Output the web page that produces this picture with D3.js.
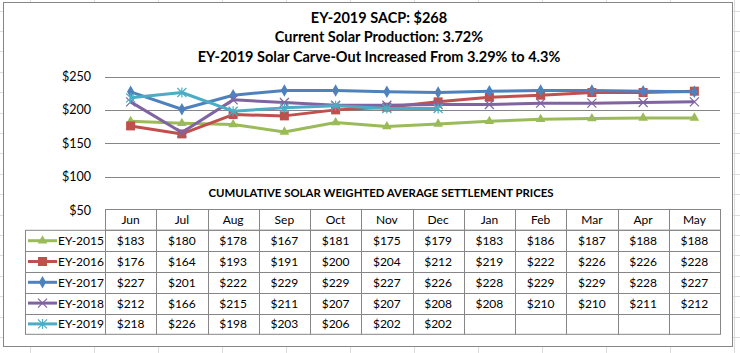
<!DOCTYPE html>
<html><head><meta charset="utf-8">
<script src="https://cdn.jsdelivr.net/npm/d3@7"></script>
<style>body{margin:0;background:#fff}svg{display:block}text{font-family:Lato,"Open Sans",sans-serif}</style>
</head><body><svg id="c" width="740" height="353"></svg>
<script>
const months = ["Jun","Jul","Aug","Sep","Oct","Nov","Dec","Jan","Feb","Mar","Apr","May"];
const seriesNames = ["EY-2015","EY-2016","EY-2017","EY-2018","EY-2019"];
const ey2015 = [183,180,178,167,181,175,179,183,186,187,188,188];
const ey2016 = [176,164,193,191,200,204,212,219,222,226,226,228];
const ey2017 = [227,201,222,229,229,227,226,228,229,229,228,227];
const ey2018 = [212,166,215,211,207,207,208,208,210,210,211,212];
const ey2019 = [218,226,198,203,206,202,202,null,null,null,null,null];
const yTicks = [50,100,150,200,250];
const titleLines = ["EY-2019 SACP: $268","Current Solar Production: 3.72%","EY-2019 Solar Carve-Out Increased From 3.29% to 4.3%"];
const tableTitle = "CUMULATIVE SOLAR WEIGHTED AVERAGE SETTLEMENT PRICES";

const colors = ["#9BBB59","#C0504D","#4F81BD","#8064A2","#4BACC6"];
const markers = ["triangle","square","diamond","x","star"];
const data = [ey2015,ey2016,ey2017,ey2018,ey2019];

const svg = d3.select("#c");

// spreadsheet background grid
const gridG = svg.append("g").attr("stroke","#dadcdd").attr("stroke-width",1);
for (let x = 30.5; x < 740; x += 64) gridG.append("line").attr("x1",x).attr("x2",x).attr("y1",0).attr("y2",353);
for (let y = 10.5; y < 353; y += 20.4) gridG.append("line").attr("x1",0).attr("x2",740).attr("y1",Math.round(y)+0.5).attr("y2",Math.round(y)+0.5);

// chart area
svg.append("rect").attr("x",3.5).attr("y",2.5).attr("width",729).attr("height",344)
  .attr("fill","#fff").attr("stroke","#868686").attr("stroke-width",1);

// titles
svg.append("g").selectAll("text").data(titleLines).join("text")
  .attr("x",379).attr("y",(d,i)=>22.5+i*19.5).attr("text-anchor","middle")
  .attr("font-weight","bold").attr("font-size",14.5).attr("fill","#000").text(d=>d);

const x = d3.scaleBand().domain(months).range([105,720]);
const y = d3.scaleLinear().domain([50,250]).range([210,76.5]);

// gridlines
svg.append("g").selectAll("line").data(yTicks.filter(t=>t>50)).join("line")
  .attr("x1",105).attr("x2",720).attr("y1",d=>Math.round(y(d))+0.5).attr("y2",d=>Math.round(y(d))+0.5)
  .attr("stroke","#868686").attr("stroke-width",1);

// y axis labels
const yAxis = d3.axisLeft(y).tickValues(yTicks).tickFormat(d=>"$"+d).tickSize(0).tickPadding(0);
const ya = svg.append("g").attr("transform","translate(91,0)").call(yAxis);
ya.select(".domain").remove();
ya.selectAll("text").attr("font-family","Lato,sans-serif").attr("font-size",12.5).attr("fill","#000");

// table title
svg.append("text").attr("x",381).attr("y",197).attr("text-anchor","middle")
  .attr("font-weight","bold").attr("font-size",11.4).attr("fill","#000").text(tableTitle);

// table
const rowH = 20.8;
const tTop = 209.5;
const fs = 12;
const tg = svg.append("g").attr("stroke","#868686").attr("stroke-width",1).attr("fill","none");
tg.append("rect").attr("x",105.5).attr("y",tTop).attr("width",615).attr("height",rowH);
tg.append("rect").attr("x",25.5).attr("y",tTop+rowH).attr("width",695).attr("height",rowH*5);
for (let i=1;i<5;i++) tg.append("line").attr("x1",25.5).attr("x2",720.5)
  .attr("y1",Math.round(tTop+rowH*(i+1))+0.5).attr("y2",Math.round(tTop+rowH*(i+1))+0.5);
months.forEach((m)=>{ const xx=Math.round(x(m))+0.5;
  tg.append("line").attr("x1",xx).attr("x2",xx).attr("y1",tTop).attr("y2",tTop+rowH*6); });

svg.append("g").selectAll("text").data(months).join("text")
  .attr("x",d=>x(d)+x.bandwidth()/2).attr("y",tTop+rowH/2+4.5).attr("text-anchor","middle")
  .attr("font-size",fs).attr("fill","#000").text(d=>d);

data.forEach((vals,si)=>{
  svg.append("g").selectAll("text").data(vals.map((v,i)=>({v,m:months[i]})).filter(d=>d.v!=null)).join("text")
    .attr("x",d=>x(d.m)+x.bandwidth()/2).attr("y",tTop+rowH*(si+1)+rowH/2+4.5).attr("text-anchor","middle")
    .attr("font-size",fs).attr("fill","#000").text(d=>"$"+d.v);
  svg.append("text").attr("x",58).attr("y",tTop+rowH*(si+1)+rowH/2+4.5)
    .attr("font-size",fs).attr("fill","#000").text(seriesNames[si]);
});

function drawMarker(g, type, cx, cy, color){
  if (type==="triangle"){
    g.append("path").attr("d",d3.symbol(d3.symbolTriangle,40)()).attr("transform",`translate(${cx},${cy})`).attr("fill",color);
  } else if (type==="square"){
    g.append("rect").attr("x",cx-4.5).attr("y",cy-4.5).attr("width",9).attr("height",9).attr("fill",color);
  } else if (type==="diamond"){
    g.append("path").attr("d",d3.symbol(d3.symbolDiamond,45)()).attr("transform",`translate(${cx},${cy})`).attr("fill",color);
  } else if (type==="x"){
    g.append("path").attr("d",`M${cx-4.5},${cy-4.5}L${cx+4.5},${cy+4.5}M${cx-4.5},${cy+4.5}L${cx+4.5},${cy-4.5}`).attr("stroke",color).attr("stroke-width",1.2).attr("fill","none");
  } else if (type==="star"){
    g.append("path").attr("d",`M${cx-4.5},${cy-4.5}L${cx+4.5},${cy+4.5}M${cx-4.5},${cy+4.5}L${cx+4.5},${cy-4.5}M${cx},${cy-5}L${cx},${cy+5}`).attr("stroke",color).attr("stroke-width",1.2).attr("fill","none");
  }
}

// series lines
const line = d3.line().defined(d=>d.v!=null).x(d=>x(d.m)+x.bandwidth()/2).y(d=>y(d.v));
data.forEach((vals,si)=>{
  const pts = vals.map((v,i)=>({v,m:months[i]}));
  const g = svg.append("g");
  g.append("path").attr("d",line(pts)).attr("fill","none").attr("stroke",colors[si])
    .attr("stroke-width",3).attr("stroke-linejoin","round");
  pts.filter(d=>d.v!=null).forEach(d=>drawMarker(g,markers[si],x(d.m)+x.bandwidth()/2,y(d.v),colors[si]));
  const ly = tTop+rowH*(si+1)+rowH/2;
  const lg = svg.append("g");
  lg.append("line").attr("x1",28).attr("x2",57).attr("y1",ly).attr("y2",ly).attr("stroke",colors[si]).attr("stroke-width",3);
  drawMarker(lg,markers[si],42.5,ly,colors[si]);
});
</script></body></html>
